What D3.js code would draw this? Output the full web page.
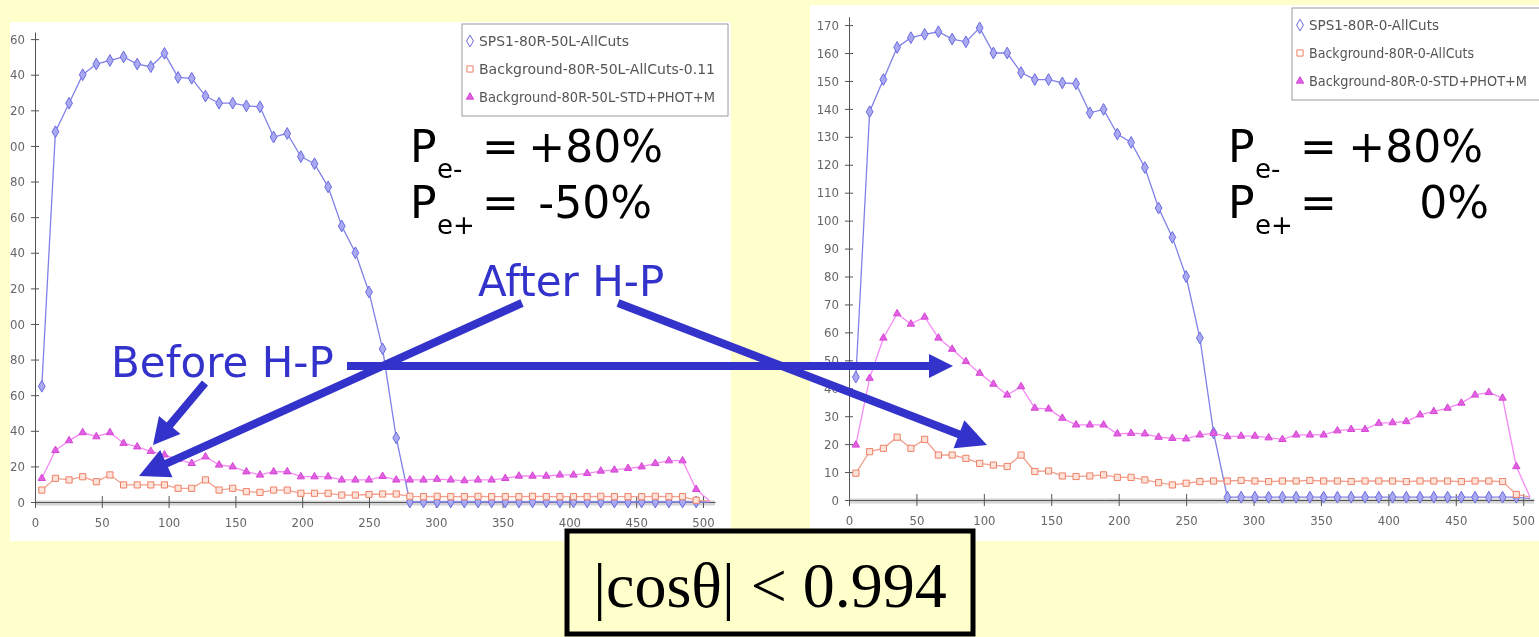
<!DOCTYPE html>
<html>
<head>
<meta charset="utf-8">
<script src="https://cdn.jsdelivr.net/npm/d3@7"></script>
<style>
  html, body { margin: 0; padding: 0; background: #ffffcc; }
  svg { display: block; }
</style>
</head>
<body>
<div id="chart"></div>
<script>
// bin centres (49 bins over 0-500, plus the closing point)
var xBins = [5.1, 15.3, 25.5, 35.7, 45.9, 56.1, 66.3, 76.5, 86.7, 96.9,
  107.1, 117.3, 127.6, 137.8, 148.0, 158.2, 168.4, 178.6, 188.8, 199.0,
  209.2, 219.4, 229.6, 239.8, 250.0, 260.2, 270.4, 280.6, 290.8, 301.0,
  311.2, 321.4, 331.6, 341.8, 352.0, 362.2, 372.4, 382.7, 392.9, 403.1,
  413.3, 423.5, 433.7, 443.9, 454.1, 464.3, 474.5, 484.7, 494.9, 505.1];

// left plot : P(e-)=+80%, P(e+)=-50%
var leftSignal = [65, 208, 224, 240, 246, 248, 250, 246, 244.5, 252,
  238.5, 238, 228, 224, 224, 222.5, 222, 205, 207, 194,
  190, 177, 155, 140, 118, 86, 36, 0, 0, 0,
  0, 0, 0, 0, 0, 0, 0, 0, 0, 0,
  0, 0, 0, 0, 0, 0, 0, 0, 0, 0];
var leftBgCuts = [6.7, 13.3, 12.4, 14.2, 11.4, 15.2, 9.6, 9.6, 9.6, 9.6,
  7.7, 7.7, 12.4, 6.7, 7.7, 5.8, 5.4, 6.7, 6.7, 4.9,
  4.9, 4.9, 3.9, 3.9, 4.2, 4.5, 4.5, 3.2, 3, 3.2,
  3, 3, 3.2, 3, 3, 3, 3.2, 3, 3, 3,
  3, 3.2, 3, 3, 3, 3.2, 3, 3, 1, 0.5];
var leftBgStd = [13.3, 29, 34.5, 39, 36.7, 39, 33, 31, 28.5, 26.5,
  24, 21.7, 25.4, 20.8, 19.8, 17, 15.2, 17, 17, 14.2,
  14.2, 14.2, 12.4, 12.4, 12.4, 14.4, 12.4, 12.4, 12.4, 12.8,
  12.4, 12, 12.4, 12.4, 13.3, 14.6, 14.6, 14.6, 15.2, 15.2,
  16.1, 17.4, 18, 18.9, 19.8, 21.7, 23.2, 23.2, 7.1, 0.5];

// right plot : P(e-)=+80%, P(e+)=0%
var rightSignal = [44, 139, 150.5, 162, 165.5, 166.7, 167.6, 165, 164, 169,
  160, 160, 153, 150.5, 150.5, 149.3, 149, 138.6, 139.8, 131,
  128, 119, 104.5, 94, 80, 58, 24, 1, 1, 1,
  1, 1, 1, 1, 1, 1, 1, 1, 1, 1,
  1, 1, 1, 1, 1, 1, 1, 1, 1, 0.5];
var rightBgCuts = [9.6, 17.3, 18.5, 22.5, 18.5, 21.7, 16.1, 16.1, 14.9, 13.1,
  12.5, 12, 16.1, 10.2, 10.4, 8.6, 8.4, 8.6, 9, 8.1,
  8.1, 7.2, 6.2, 5.4, 6, 6.6, 6.8, 6.8, 7, 6.8,
  6.6, 6.8, 6.8, 7, 6.8, 6.8, 6.6, 6.8, 6.8, 6.8,
  6.6, 6.8, 6.8, 6.8, 6.6, 6.8, 6.8, 6.6, 2, 1];
var rightBgStd = [19.7, 43.6, 58, 66.7, 63, 65.5, 58, 54, 49.6, 45.4,
  41.5, 37.6, 40.6, 32.9, 32.6, 29.3, 26.9, 26.9, 26.9, 23.7,
  23.9, 23.7, 22.5, 22.1, 21.9, 23.3, 23.9, 22.7, 22.9, 22.9,
  22.3, 21.7, 23.3, 23.3, 23.3, 24.8, 25.3, 25.3, 27.5, 27.7,
  28.1, 30.5, 31.7, 32.9, 34.7, 37.6, 38.5, 36.5, 12, 1];

var xTicks = [0, 50, 100, 150, 200, 250, 300, 350, 400, 450, 500];
var leftYTicks = [0, 20, 40, 60, 80, 100, 120, 140, 160, 180, 200, 220, 240, 260];
var rightYTicks = [0, 10, 20, 30, 40, 50, 60, 70, 80, 90, 100, 110, 120, 130, 140, 150, 160, 170];

var leftNames = ['SPS1-80R-50L-AllCuts', 'Background-80R-50L-AllCuts-0.11', 'Background-80R-50L-STD+PHOT+M'];
var rightNames = ['SPS1-80R-0-AllCuts', 'Background-80R-0-AllCuts', 'Background-80R-0-STD+PHOT+M'];

var width = 1539, height = 637;
var blue = '#3333cc';

var svg = d3.select('#chart')
  .append('svg')
  .attr('width', width)
  .attr('height', height);

var defs = svg.append('defs');
defs.append('filter').attr('id', 'soft')
  .append('feGaussianBlur').attr('stdDeviation', 0.6);

var styles = [
  {line: '#8080e8', stroke: '#6a6ae0', fill: '#a9a9f2', shape: 'diamond'},
  {line: '#f2a090', stroke: '#ee8066', fill: '#fde3da', shape: 'square'},
  {line: '#f58af5', stroke: '#d646d6', fill: '#e060e0', shape: 'triangle'}
];

function marker(shape) {
  if (shape === 'diamond') return d3.symbol().type(d3.symbolDiamond).size(40)();
  if (shape === 'square') return d3.symbol().type(d3.symbolSquare).size(38)();
  return d3.symbol().type(d3.symbolTriangle).size(24)();
}

function drawPanel(p) {
  var clipId = 'clip' + p.id;
  defs.append('clipPath').attr('id', clipId)
    .append('rect')
    .attr('x', p.box[0]).attr('y', p.box[1])
    .attr('width', p.box[2]).attr('height', p.box[3]);

  var g = svg.append('g').attr('clip-path', 'url(#' + clipId + ')');
  g.append('rect')
    .attr('x', p.box[0]).attr('y', p.box[1])
    .attr('width', p.box[2]).attr('height', p.box[3])
    .attr('fill', '#ffffff');

  var x = d3.scaleLinear().domain(p.xDomain).range(p.xRange);
  var y = d3.scaleLinear().domain(p.yDomain).range(p.yRange);

  var plot = g.append('g').attr('filter', 'url(#soft)');

  // light grey band along zero
  plot.append('line')
    .attr('x1', x(0)).attr('x2', p.xRange[1])
    .attr('y1', y(0) + 1).attr('y2', y(0) + 1)
    .attr('stroke', '#d4d4d4').attr('stroke-width', 5);

  var yAxis = plot.append('g')
    .attr('transform', 'translate(' + x(0) + ',0)')
    .call(d3.axisLeft(y).tickValues(p.yTicks).tickSizeInner(4).tickSizeOuter(0).tickPadding(6));
  yAxis.selectAll('.tick line').attr('x1', -4).attr('x2', 4);

  var xAxis = plot.append('g')
    .attr('transform', 'translate(0,' + y(0) + ')')
    .call(d3.axisBottom(x).tickValues(xTicks).tickSizeInner(6).tickSizeOuter(0).tickPadding(10));
  xAxis.selectAll('.tick line').attr('y1', -6).attr('y2', 6);

  [yAxis, xAxis].forEach(function(a) {
    a.select('.domain').attr('stroke', '#555');
    a.selectAll('.tick line').attr('stroke', '#555');
    a.selectAll('text')
      .attr('fill', '#666')
      .attr('font-family', 'DejaVu Sans Condensed, DejaVu Sans')
      .attr('font-size', 13);
  });

  var line = d3.line()
    .x(function(d) { return x(d.x); })
    .y(function(d) { return y(d.v); });

  p.series.forEach(function(vals, k) {
    var st = styles[k];
    var pts = vals.map(function(v, i) { return {x: xBins[i], v: v}; });
    plot.append('path')
      .datum(pts)
      .attr('d', line)
      .attr('fill', 'none')
      .attr('stroke', st.line)
      .attr('stroke-width', 1.3);
    plot.selectAll('.m' + k)
      .data(pts.slice(0, 49))
      .enter()
      .append('path')
      .attr('class', 'm' + k)
      .attr('d', marker(st.shape))
      .attr('transform', function(d) { return 'translate(' + x(d.x) + ',' + y(d.v) + ')'; })
      .attr('fill', st.fill)
      .attr('stroke', st.stroke)
      .attr('stroke-width', 1);
  });

  // legend
  var lg = g.append('g').attr('filter', 'url(#soft)');
  lg.append('rect')
    .attr('x', p.legend.x).attr('y', p.legend.y)
    .attr('width', p.legend.w).attr('height', p.legend.h)
    .attr('fill', '#ffffff').attr('stroke', '#9a9a9a');
  p.names.forEach(function(name, k) {
    var ly = p.legend.y + 17 + k * 28;
    lg.append('path')
      .attr('d', marker(styles[k].shape))
      .attr('transform', 'translate(' + (p.legend.x + 8) + ',' + ly + ')')
      .attr('fill', k === 2 ? styles[k].fill : '#ffffff')
      .attr('stroke', styles[k].stroke);
    lg.append('text')
      .attr('x', p.legend.x + 17)
      .attr('y', ly + 5)
      .attr('font-family', 'DejaVu Sans Condensed, DejaVu Sans')
      .attr('font-size', 13.5)
      .attr('fill', '#555')
      .attr('textLength', p.legend.tl[k])
      .attr('lengthAdjust', 'spacingAndGlyphs')
      .text(name);
  });
}

drawPanel({
  id: 'L', box: [10, 22, 721, 519],
  xDomain: [0, 509], xRange: [35, 715],
  yDomain: [0, 264], yRange: [502, 32],
  yTicks: leftYTicks,
  series: [leftSignal, leftBgCuts, leftBgStd],
  names: leftNames,
  legend: {x: 462, y: 24, w: 266, h: 92, tl: [150, 236, 236]}
});

drawPanel({
  id: 'R', box: [810, 5, 729, 536],
  xDomain: [0, 508], xRange: [849, 1534],
  yDomain: [0, 173], yRange: [500, 16.7],
  yTicks: rightYTicks,
  series: [rightSignal, rightBgCuts, rightBgStd],
  names: rightNames,
  legend: {x: 1292, y: 8, w: 260, h: 92, tl: [130, 165, 218]}
});

// polarisation labels
function polLabel(x0, yb, sub, value, xEnd) {
  var t = svg.append('g')
    .attr('font-family', 'DejaVu Sans')
    .attr('fill', '#000');
  t.append('text').attr('x', x0).attr('y', yb).attr('font-size', 44).text('P');
  t.append('text').attr('x', x0 + 27).attr('y', yb + 16).attr('font-size', 26).text(sub);
  t.append('text').attr('x', x0 + 72).attr('y', yb).attr('font-size', 44).text('=');
  t.append('text').attr('x', xEnd).attr('y', yb).attr('font-size', 44)
    .attr('text-anchor', 'end').text(value);
}
polLabel(410, 162, 'e-', '+80%', 663);
polLabel(410, 218, 'e+', '-50%', 652);
polLabel(1228, 162, 'e-', '+80%', 1483);
polLabel(1228, 218, 'e+', '0%', 1489);

// blue notes and arrows
svg.append('text').attr('x', 478).attr('y', 296)
  .attr('font-family', 'DejaVu Sans').attr('font-size', 42)
  .attr('fill', blue).text('After H-P');
svg.append('text').attr('x', 111).attr('y', 377)
  .attr('font-family', 'DejaVu Sans').attr('font-size', 42)
  .attr('fill', blue).text('Before H-P');

function arrow(x1, y1, x2, y2, headLen, headHalf) {
  var dx = x2 - x1, dy = y2 - y1;
  var len = Math.sqrt(dx * dx + dy * dy);
  var ux = dx / len, uy = dy / len;
  var bx = x2 - ux * headLen, by = y2 - uy * headLen;
  svg.append('line')
    .attr('x1', x1).attr('y1', y1).attr('x2', bx + ux * 2).attr('y2', by + uy * 2)
    .attr('stroke', blue).attr('stroke-width', 8);
  svg.append('polygon')
    .attr('points', [
      [x2, y2],
      [bx - uy * headHalf, by + ux * headHalf],
      [bx + uy * headHalf, by - ux * headHalf]
    ].map(function(p) { return p.join(','); }).join(' '))
    .attr('fill', blue);
}
arrow(347, 366, 953, 366, 24, 12);
arrow(205, 383, 153, 445, 26, 14);
arrow(522, 303, 139, 476, 30, 15);
arrow(618, 303, 987, 445, 30, 15);

// cut box
svg.append('rect')
  .attr('x', 567).attr('y', 531).attr('width', 406).attr('height', 103)
  .attr('fill', '#ffffcc').attr('stroke', '#000').attr('stroke-width', 5);
svg.append('text')
  .attr('x', 770).attr('y', 607)
  .attr('text-anchor', 'middle')
  .attr('font-family', 'Liberation Serif, Times New Roman, serif')
  .attr('font-size', 64)
  .text('|cos\u03b8| < 0.994');
</script>
</body>
</html>
